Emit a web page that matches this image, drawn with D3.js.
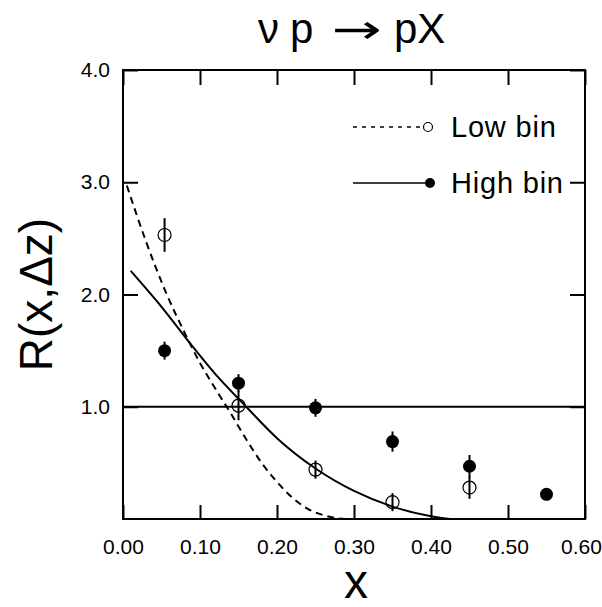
<!DOCTYPE html>
<html>
<head>
<meta charset="utf-8">
<script src="https://cdn.jsdelivr.net/npm/d3@7"></script>
<style>
  body { margin: 0; background: #fff; }
  text { font-family: "Liberation Sans", Arial, sans-serif; fill: #000; }
</style>
</head>
<body>
<div id="chart"></div>
<script>
// measured points (x bin centres)
const lowX = [0.054, 0.15, 0.25, 0.35, 0.45];
const lowR = [2.53, 1.01, 0.44, 0.15, 0.28];
const lowErr = [0.15, 0.13, 0.08, 0.08, 0.1];

const highX = [0.054, 0.15, 0.25, 0.35, 0.45, 0.55];
const highR = [1.50, 1.21, 0.99, 0.69, 0.47, 0.22];
const highErr = [0.08, 0.08, 0.08, 0.09, 0.1, 0];

// curves
const lowCurveX = [0.005, 0.03, 0.055, 0.08, 0.10, 0.12, 0.14, 0.16, 0.18, 0.20, 0.22, 0.24, 0.26, 0.28, 0.29];
const lowCurveR = [2.97, 2.47, 2.03, 1.66, 1.39, 1.16, 0.94, 0.71, 0.50, 0.33, 0.19, 0.09, 0.035, 0.005, 0];
const highCurveX = [0.01, 0.05, 0.09, 0.12, 0.16, 0.20, 0.25, 0.30, 0.35, 0.40, 0.43, 0.44];
const highCurveR = [2.21, 1.89, 1.54, 1.29, 1.0, 0.72, 0.45, 0.25, 0.11, 0.025, 0, 0];

const xTicks = [0, 0.1, 0.2, 0.3, 0.4, 0.5, 0.6];
const yTicks = [1, 2, 3, 4];
const refLine = 1.0;

const width = 602, height = 607;
const margin = {top: 70, right: 17, bottom: 88, left: 123};

const svg = d3.select('#chart').append('svg')
    .attr('width', width)
    .attr('height', height);

const x = d3.scaleLinear().domain([0, 0.6]).range([margin.left, width - margin.right]);
const y = d3.scaleLinear().domain([0, 4]).range([height - margin.bottom, margin.top]);

// axes, ticks pointing inward
const axBottom = svg.append('g')
    .attr('transform', `translate(0,${y(0)})`)
    .call(d3.axisBottom(x).tickValues(xTicks).tickFormat(d3.format('.2f')).tickSize(-14).tickPadding(20));
const axTop = svg.append('g')
    .attr('transform', `translate(0,${y(4)})`)
    .call(d3.axisTop(x).tickValues(xTicks).tickFormat('').tickSize(-15));
const axLeft = svg.append('g')
    .attr('transform', `translate(${x(0)},0)`)
    .call(d3.axisLeft(y).tickValues(yTicks).tickFormat(d3.format('.1f')).tickSize(-15).tickPadding(13));
const axRight = svg.append('g')
    .attr('transform', `translate(${x(0.6)},0)`)
    .call(d3.axisRight(y).tickValues(yTicks).tickFormat('').tickSize(-15));

[axBottom, axTop, axLeft, axRight].forEach(g => {
    g.select('.domain').remove();
    g.selectAll('line').attr('stroke', '#000').attr('stroke-width', 2);
    g.selectAll('text').style('font-size', '21px').attr('fill', '#000');
});
// last label sits on the page edge, nudge it in a little
axBottom.selectAll('.tick text').filter(d => d === 0.6).attr('dx', -4);

// frame
svg.append('rect')
    .attr('x', x(0)).attr('y', y(4))
    .attr('width', x(0.6) - x(0)).attr('height', y(0) - y(4))
    .attr('fill', 'none').attr('stroke', '#000').attr('stroke-width', 2);

// reference line at R = 1
svg.append('line')
    .attr('x1', x(0)).attr('x2', x(0.6))
    .attr('y1', y(refLine)).attr('y2', y(refLine))
    .attr('stroke', '#000').attr('stroke-width', 2);

const line = d3.line()
    .x(d => x(d[0]))
    .y(d => y(d[1]))
    .curve(d3.curveMonotoneX);

svg.append('path')
    .datum(d3.zip(lowCurveX, lowCurveR))
    .attr('d', line)
    .attr('fill', 'none').attr('stroke', '#000').attr('stroke-width', 2)
    .attr('stroke-dasharray', '7,5');

svg.append('path')
    .datum(d3.zip(highCurveX, highCurveR))
    .attr('d', line)
    .attr('fill', 'none').attr('stroke', '#000').attr('stroke-width', 2);

// error bars
const bars = d3.zip(lowX, lowR, lowErr).concat(d3.zip(highX, highR, highErr));
svg.append('g').selectAll('line')
    .data(bars.filter(d => d[2] > 0))
    .enter().append('line')
    .attr('x1', d => x(d[0])).attr('x2', d => x(d[0]))
    .attr('y1', d => y(d[1] - d[2])).attr('y2', d => y(d[1] + d[2]))
    .attr('stroke', '#000').attr('stroke-width', 2);

// points
svg.append('g').selectAll('circle')
    .data(d3.zip(lowX, lowR))
    .enter().append('circle')
    .attr('cx', d => x(d[0])).attr('cy', d => y(d[1]))
    .attr('r', 6.5)
    .attr('fill', 'none').attr('stroke', '#000').attr('stroke-width', 1.2);

svg.append('g').selectAll('circle')
    .data(d3.zip(highX, highR))
    .enter().append('circle')
    .attr('cx', d => x(d[0])).attr('cy', d => y(d[1]))
    .attr('r', 6.5)
    .attr('fill', '#000');

// legend
const legend = svg.append('g');
legend.append('line')
    .attr('x1', 353).attr('x2', 423).attr('y1', 127).attr('y2', 127)
    .attr('stroke', '#000').attr('stroke-width', 1.3).attr('stroke-dasharray', '4,5');
legend.append('circle')
    .attr('cx', 428).attr('cy', 127).attr('r', 4.5)
    .attr('fill', 'none').attr('stroke', '#000').attr('stroke-width', 1.2);
legend.append('text')
    .attr('x', 451).attr('y', 127).attr('dy', '0.36em')
    .style('font-size', '29px').style('letter-spacing', '0.8px').text('Low bin');
legend.append('line')
    .attr('x1', 353).attr('x2', 428).attr('y1', 183).attr('y2', 183)
    .attr('stroke', '#000').attr('stroke-width', 1.5);
legend.append('circle')
    .attr('cx', 430).attr('cy', 183).attr('r', 5)
    .attr('fill', '#000');
legend.append('text')
    .attr('x', 451).attr('y', 183).attr('dy', '0.36em')
    .style('font-size', '29px').style('letter-spacing', '0.8px').text('High bin');

// title: ν p → pX
const title = svg.append('g');
title.append('text')
    .attr('x', 258).attr('y', 43)
    .style('font-size', '42px')
    .text('ν');
title.append('text')
    .attr('x', 290).attr('y', 43)
    .style('font-size', '42px')
    .text('p');
title.append('text')
    .attr('x', 332).attr('y', 43)
    .attr('textLength', 50).attr('lengthAdjust', 'spacingAndGlyphs')
    .style('font-family', '"DejaVu Sans", sans-serif')
    .style('font-size', '40px')
    .text('→');
title.append('text')
    .attr('x', 394).attr('y', 43)
    .style('font-size', '42px')
    .text('pX');

svg.append('text')
    .attr('transform', `translate(52,${(y(0) + y(4)) / 2}) rotate(-90)`)
    .attr('text-anchor', 'middle')
    .style('font-size', '46px')
    .text('R(x,Δz)');

svg.append('text')
    .attr('x', 356).attr('y', 598)
    .attr('text-anchor', 'middle')
    .style('font-size', '48px')
    .text('x');
</script>
</body>
</html>
